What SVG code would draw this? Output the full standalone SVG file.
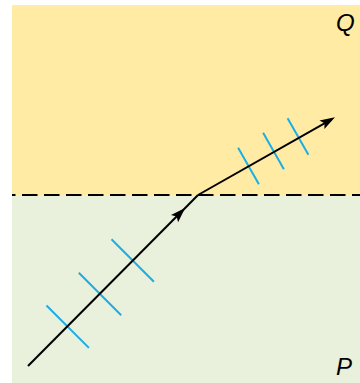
<svg xmlns="http://www.w3.org/2000/svg" width="360" height="383" viewBox="0 0 360 383">
<style>
.ray{stroke:#000;stroke-width:2;fill:none}
.tick{stroke:#1BAEE5;stroke-width:2;fill:none}
.lbl{font-family:"Liberation Sans",Arial,sans-serif;font-style:italic;font-size:24px;fill:#000}
</style>
<defs>
<marker id="ah" markerUnits="userSpaceOnUse" markerWidth="20" markerHeight="12" refX="-4" refY="0" orient="auto" overflow="visible">
<path d="M0,0 L-15,-5 L-12,0 L-15,5 Z" fill="#000"/>
</marker>
</defs>
<g id="media">
<rect x="12" y="5" width="348" height="190" fill="#FFEBA3"/>
<rect x="12" y="195" width="348" height="188" fill="#E9F0DC"/>
</g>
<g id="interface">
<line x1="12" y1="195" x2="360" y2="195" stroke="#000" stroke-width="2" stroke-dasharray="15.5 6.5" stroke-dashoffset="12"/>
</g>
<g id="wavefronts">
<line class="tick" x1="46.5" y1="305.5" x2="88.9" y2="347.9"/>
<line class="tick" x1="78.8" y1="272.8" x2="121.2" y2="315.2"/>
<line class="tick" x1="111.5" y1="239.3" x2="153.9" y2="281.7"/>
<line class="tick" x1="238.1" y1="147.7" x2="258.9" y2="184.3"/>
<line class="tick" x1="263.1" y1="132.7" x2="283.9" y2="169.3"/>
<line class="tick" x1="287.6" y1="118.2" x2="308.4" y2="154.8"/>
</g>
<g id="connectors">
<path class="ray" d="M28,366 L182.3,210.8" marker-end="url(#ah)"/>
<path class="ray" d="M180,213.2 L198,195"/>
<path class="ray" d="M198,195 L331.5,119.3" marker-end="url(#ah)"/>
</g>
<g id="labels">
<text class="lbl" x="336" y="31">Q</text>
<text class="lbl" x="336" y="375">P</text>
</g>
</svg>
